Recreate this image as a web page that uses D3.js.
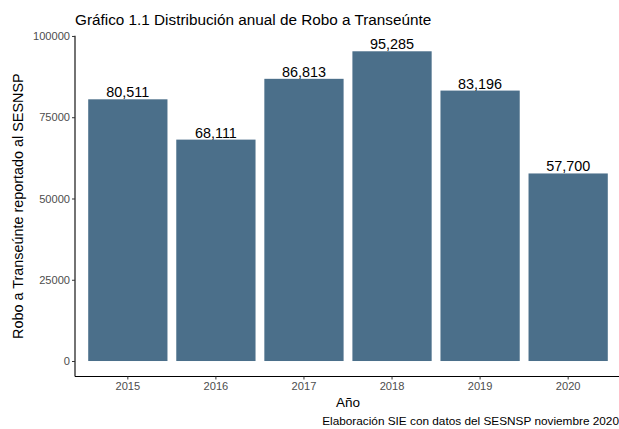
<!DOCTYPE html>
<html><head><meta charset="utf-8">
<script src="https://cdn.jsdelivr.net/npm/d3@7"></script>
<style>body{margin:0;background:#fff}text{font-family:"Liberation Sans",Arial,sans-serif}</style>
</head><body>
<svg id="c" width="619" height="429"></svg>
<script>
const years = ["2015","2016","2017","2018","2019","2020"];
const values = [80511, 68111, 86813, 95285, 83196, 57700];
const yTicks = [0, 25000, 50000, 75000, 100000];
const title = "Gráfico 1.1 Distribución anual de Robo a Transeúnte";
const xTitle = "Año";
const yTitle = "Robo a Transeúnte reportado al SESNSP";
const caption = "Elaboración SIE con datos del SESNSP noviembre 2020";

(function(){
const svg = d3.select("#c");
const pL = 75, pR = 621, pT = 35.8, pB = 376.5;
const x = d3.scaleBand().domain(years).range([pL, pR]).paddingInner(0.1).paddingOuter(0.15);
const y = d3.scaleLinear().domain([-4764, 100049]).range([pB, pT]);

svg.append("g").selectAll("rect").data(values).join("rect")
  .attr("x",(d,i)=>x(years[i])).attr("width",x.bandwidth())
  .attr("y",d=>y(d)).attr("height",d=>y(0)-y(d)).attr("fill","#4b6f8a");

const fmt = d3.format(",");
svg.append("g").selectAll("text").data(values).join("text")
  .attr("x",(d,i)=>x(years[i])+x.bandwidth()/2).attr("y",d=>y(d)-2)
  .attr("text-anchor","middle").attr("font-size","14.4px").attr("fill","#000").text(d=>fmt(d));

const yAxis = svg.append("g").attr("transform",`translate(${pL},0)`)
  .call(d3.axisLeft(y).tickValues(yTicks).tickSize(3).tickPadding(2).tickFormat(d3.format("d")));
const xAxis = svg.append("g").attr("transform",`translate(0,${pB})`)
  .call(d3.axisBottom(x).tickSize(3).tickPadding(3));
[yAxis,xAxis].forEach(a=>{
  a.select(".domain").attr("stroke","#000").attr("stroke-width",1.1);
  a.selectAll(".tick line").attr("stroke","#333").attr("stroke-width",1);
  a.selectAll(".tick text").attr("fill","#4d4d4d").attr("font-size","11.1px").attr("font-family","Liberation Sans, Arial, sans-serif");
});
yAxis.select(".domain").attr("d",`M0,${pT}V${pB}`);
xAxis.select(".domain").attr("d",`M${pL},0H${pR}`);

svg.append("text").attr("x",pL).attr("y",25).attr("font-size","15.3px").attr("fill","#000").text(title);
svg.append("text").attr("x",(pL+pR)/2).attr("y",407).attr("text-anchor","middle").attr("font-size","13.5px").text(xTitle);
svg.append("text").attr("transform",`translate(23,${(pT+pB)/2}) rotate(-90)`).attr("text-anchor","middle").attr("font-size","14.4px").text(yTitle);
svg.append("text").attr("x",619).attr("y",425).attr("text-anchor","end").attr("font-size","11.8px").text(caption);
})();
</script>
</body></html>
